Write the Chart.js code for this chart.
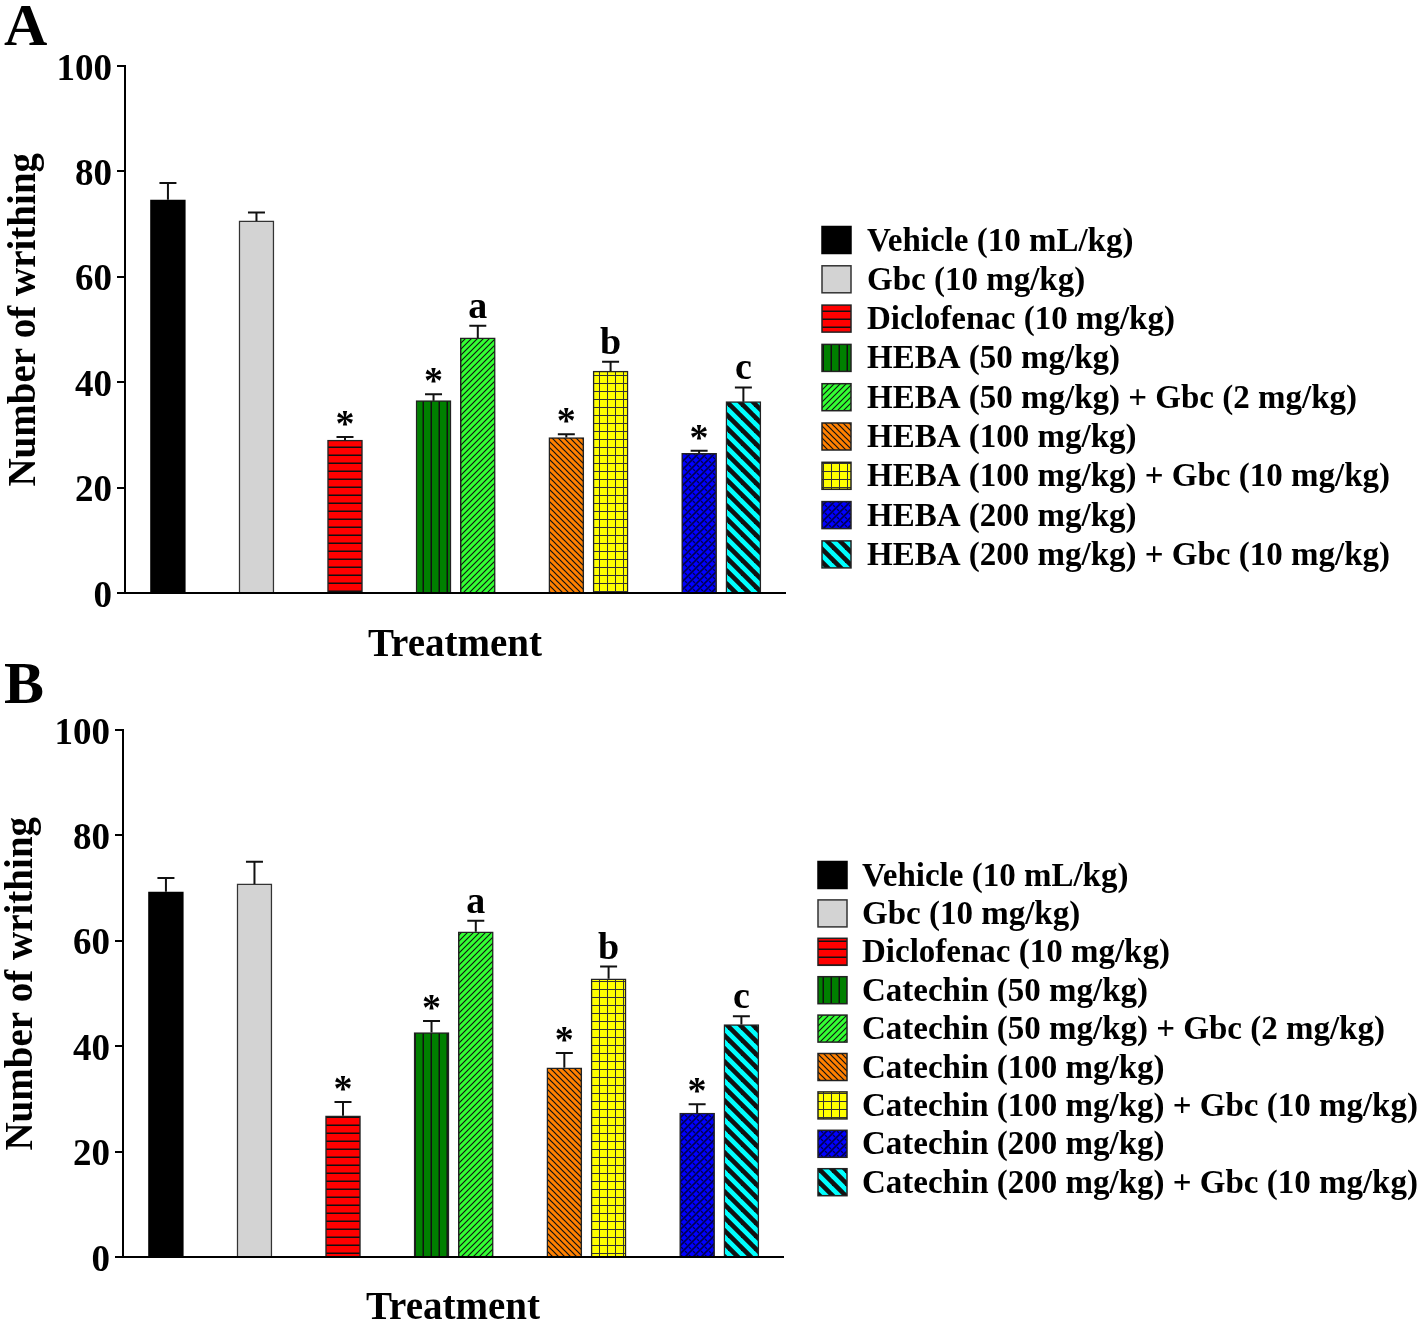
<!DOCTYPE html>
<html>
<head>
<meta charset="utf-8">
<script src="https://cdn.jsdelivr.net/npm/chart.js@4.4.1/dist/chart.umd.min.js"></script>
<style>
  body { margin: 0; background: #fff; width: 1418px; height: 1324px; position: relative; overflow: hidden; }
  .painel { position: absolute; left: 0; }
  .letra { position: absolute; left: 4px; font: bold 60px "Liberation Serif", "Times New Roman", serif; line-height: 1; color: #000; }
</style>
</head>
<body>
<div class="letra" style="top:-5px">A</div>
<canvas id="graficoA" class="painel" width="1418" height="661" style="top:0"></canvas>
<div class="letra" style="top:653px">B</div>
<canvas id="graficoB" class="painel" width="1418" height="662" style="top:662px"></canvas>

<script>
// ================================
// Dados
// ================================
const gruposA = [
  "Vehicle (10 mL/kg)",
  "Gbc (10 mg/kg)",
  "Diclofenac (10 mg/kg)",
  "HEBA (50 mg/kg)",
  "HEBA (50 mg/kg) + Gbc (2 mg/kg)",
  "HEBA (100 mg/kg)",
  "HEBA (100 mg/kg) + Gbc (10 mg/kg)",
  "HEBA (200 mg/kg)",
  "HEBA (200 mg/kg) + Gbc (10 mg/kg)",
]
const mediasA = [74.6, 70.6, 29.0, 36.5, 48.4, 29.5, 42.1, 26.5, 36.3]
const errosA = [3.2, 1.6, 0.6, 1.2, 2.3, 0.6, 1.8, 0.5, 2.7]

const gruposB = [
  "Vehicle (10 mL/kg)",
  "Gbc (10 mg/kg)",
  "Diclofenac (10 mg/kg)",
  "Catechin (50 mg/kg)",
  "Catechin (50 mg/kg) + Gbc (2 mg/kg)",
  "Catechin (100 mg/kg)",
  "Catechin (100 mg/kg) + Gbc (10 mg/kg)",
  "Catechin (200 mg/kg)",
  "Catechin (200 mg/kg) + Gbc (10 mg/kg)",
]
const mediasB = [69.3, 70.8, 26.8, 42.6, 61.7, 35.9, 52.8, 27.3, 44.1]
const errosB = [2.6, 4.2, 2.6, 2.2, 2.1, 2.8, 2.3, 1.7, 1.6]

const marcas = ["", "", "*", "*", "a", "*", "b", "*", "c"]
const ticksY = [0, 20, 40, 60, 80, 100]

// ================================
// Layout e estilos
// ================================
const FONTE = '"Liberation Serif", "Times New Roman", serif'
const posicoes = [0, 2, 4, 6, 7, 9, 10, 12, 13]
const estilos = [
  { tipo: "solido", cor: "#000000", borda: "#000000" },
  { tipo: "solido", cor: "#d3d3d3", borda: "#333333" },
  { tipo: "horizontal", cor: "#ff0000", borda: "#222222" },
  { tipo: "vertical", cor: "#008000", borda: "#222222" },
  { tipo: "barra", cor: "#33ff33", borda: "#222222" },
  { tipo: "contrabarra", cor: "#ff8000", borda: "#222222" },
  { tipo: "grade", cor: "#ffff00", borda: "#222222" },
  { tipo: "tijolo", cor: "#0000ff", borda: "#222222" },
  { tipo: "faixa", cor: "#00ffff", borda: "#222222" },
]

function criarPreenchimento(estilo) {
  if (estilo.tipo === "solido") return estilo.cor
  const c = document.createElement("canvas")
  const g = c.getContext("2d")
  const tile = (w, h) => {
    c.width = w
    c.height = h
    g.fillStyle = estilo.cor
    g.fillRect(0, 0, w, h)
    g.fillStyle = "#111"
    g.strokeStyle = "#111"
  }
  const linha = (x1, y1, x2, y2) => {
    g.beginPath()
    g.moveTo(x1, y1)
    g.lineTo(x2, y2)
    g.stroke()
  }
  if (estilo.tipo === "horizontal") {
    tile(8, 8)
    g.fillRect(0, 6.5, 8, 1.5)
  } else if (estilo.tipo === "vertical") {
    tile(8, 8)
    g.fillRect(6.5, 0, 1.5, 8)
  } else if (estilo.tipo === "barra") {
    const s = 6
    tile(s, s)
    g.lineWidth = 1.1
    linha(-1, s + 1, s + 1, -1)
    linha(-1, 1, 1, -1)
    linha(s - 1, s + 1, s + 1, s - 1)
  } else if (estilo.tipo === "contrabarra") {
    const s = 6
    tile(s, s)
    g.lineWidth = 1.2
    linha(-1, -1, s + 1, s + 1)
    linha(-1, s - 1, 1, s + 1)
    linha(s - 1, -1, s + 1, 1)
  } else if (estilo.tipo === "grade") {
    tile(8, 8)
    g.fillStyle = "#333"
    g.fillRect(7, 0, 1, 8)
    g.fillRect(0, 7, 8, 1)
  } else if (estilo.tipo === "tijolo") {
    const s = 8
    tile(s, s)
    g.strokeStyle = "#000050"
    g.lineWidth = 1.6
    linha(-1, s + 1, s + 1, -1)
    linha(-1, 1, 1, -1)
    linha(s - 1, s + 1, s + 1, s - 1)
    g.lineWidth = 1.2
    linha(1, 1, 3, 3)
    linha(5, 5, 7, 7)
  } else if (estilo.tipo === "faixa") {
    const s = 13
    tile(s, s)
    g.lineWidth = 4.6
    linha(-3, -3, s + 3, s + 3)
    linha(-3, s - 3, 3, s + 3)
    linha(s - 3, -3, s + 3, 3)
  }
  return g.createPattern(c, "repeat")
}

// ================================
// Plugins: barras de erro e legenda
// ================================
const pluginErros = {
  id: "barrasErro",
  afterDatasetsDraw(chart, args, opts) {
    const { ctx } = chart
    const y = chart.scales.y
    ctx.save()
    ctx.strokeStyle = "#111"
    ctx.lineWidth = 2
    chart.data.datasets.forEach((ds, i) => {
      const barra = chart.getDatasetMeta(i).data[0]
      const topo = y.getPixelForValue(ds.data[0].y + opts.erros[i])
      ctx.beginPath()
      ctx.moveTo(barra.x, barra.y)
      ctx.lineTo(barra.x, topo)
      ctx.moveTo(barra.x - 8.5, topo)
      ctx.lineTo(barra.x + 8.5, topo)
      ctx.stroke()

      const m = opts.marcas[i]
      if (m) {
        ctx.fillStyle = "#000"
        ctx.font = `bold 38px ${FONTE}`
        ctx.textAlign = "center"
        ctx.textBaseline = "alphabetic"
        ctx.fillText(m, barra.x, m === "*" ? topo - 1 : topo - 8)
      }
    })
    ctx.restore()
  },
}

const pluginLegenda = {
  id: "legendaLateral",
  afterDraw(chart, args, opts) {
    const { ctx } = chart
    ctx.save()
    ctx.font = `bold 33px ${FONTE}`
    ctx.textBaseline = "middle"
    ctx.textAlign = "left"
    chart.data.datasets.forEach((ds, i) => {
      const yc = opts.topo + i * opts.passo
      ctx.fillStyle = ds.backgroundColor
      ctx.fillRect(opts.x, yc - 13.5, 29, 27)
      ctx.strokeStyle = ds.borderColor
      ctx.lineWidth = 1.5
      ctx.strokeRect(opts.x, yc - 13.5, 29, 27)
      ctx.fillStyle = "#000"
      ctx.fillText(ds.label, opts.x + opts.recuo, yc + 2)
    })
    ctx.restore()
  },
}

// ================================
// Montagem dos gráficos
// ================================
function montarGrafico(id, grupos, medias, erros, aj) {
  const datasets = grupos.map((nome, i) => ({
    label: nome,
    data: [{ x: posicoes[i], y: medias[i] }],
    backgroundColor: criarPreenchimento(estilos[i]),
    borderColor: estilos[i].borda,
    borderWidth: 1.5,
    barThickness: 35,
    grouped: false,
  }))

  return new Chart(document.getElementById(id), {
    type: "bar",
    data: { datasets },
    plugins: [pluginErros, pluginLegenda],
    options: {
      responsive: false,
      animation: false,
      devicePixelRatio: 1,
      layout: { padding: { left: 0, top: aj.topo, right: aj.direita, bottom: 0 } },
      plugins: {
        legend: { display: false },
        tooltip: { enabled: false },
        barrasErro: { erros, marcas },
        legendaLateral: aj.legenda,
      },
      scales: {
        x: {
          type: "linear",
          min: -0.97,
          max: 13.94,
          offset: false,
          ticks: { display: false },
          grid: { display: false },
          border: { display: true, color: "#000", width: 2 },
          title: {
            display: true,
            text: "Treatment",
            color: "#000",
            font: { family: FONTE, size: 39, weight: "bold", lineHeight: 0.75 },
            padding: 0,
          },
          afterFit: (s) => { s.height = aj.alturaX },
        },
        y: {
          min: 0,
          max: 100,
          afterBuildTicks: (s) => { s.ticks = ticksY.map((v) => ({ value: v })) },
          ticks: {
            color: "#000",
            font: { family: FONTE, size: 37, weight: "bold" },
            padding: 5,
            labelOffset: 4,
          },
          grid: {
            display: true,
            drawOnChartArea: false,
            drawTicks: true,
            tickLength: 8,
            color: "#000",
            lineWidth: 2,
          },
          border: { display: true, color: "#000", width: 2 },
          title: {
            display: true,
            text: "  Number of writhing",
            color: "#000",
            font: { family: FONTE, size: 39, weight: "bold", lineHeight: 0.75 },
            padding: { top: aj.tituloY, bottom: 0 },
          },
          afterFit: (s) => { s.width = aj.esquerda },
        },
      },
    },
  })
}

montarGrafico("graficoA", gruposA, mediasA, errosA, {
  topo: 66, direita: 633, esquerda: 125, alturaX: 68, tituloY: 10,
  legenda: { x: 822, topo: 240, passo: 39.3, recuo: 45 },
})

montarGrafico("graficoB", gruposB, mediasB, errosB, {
  topo: 68, direita: 635, esquerda: 123, alturaX: 67, tituloY: 7,
  legenda: { x: 818, topo: 213, passo: 38.4, recuo: 44 },
})
</script>
</body>
</html>
